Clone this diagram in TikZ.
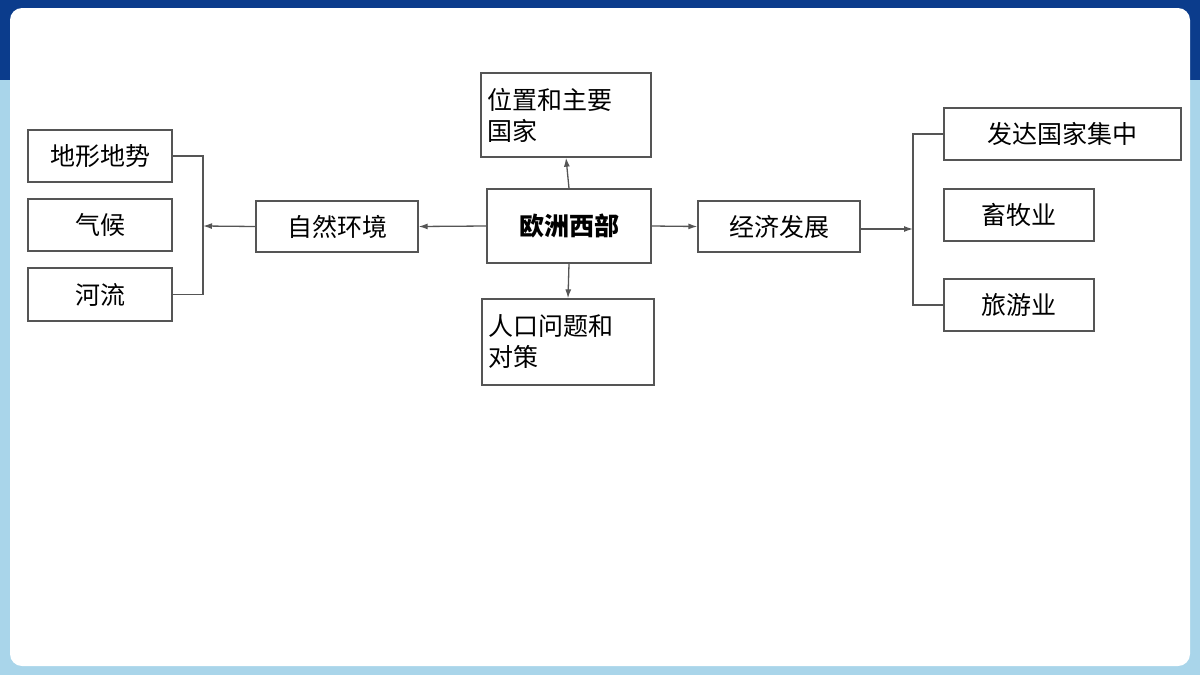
\documentclass[tikz,border=0pt]{standalone}
\usepackage{fontspec}
\newfontfamily\cjk{Noto Sans CJK SC}
\usetikzlibrary{positioning,arrows.meta}
\definecolor{navy}{HTML}{0B3C8C}
\definecolor{skyb}{HTML}{A9D5EA}
\definecolor{linec}{HTML}{555555}
\tikzset{
  box/.style={draw=linec,line width=1.3pt,fill=white,font=\cjk\fontsize{25}{31}\selectfont,inner sep=0pt},
  link/.style={draw=linec,line width=1.3pt},
  arr/.style={link,-{Latex[length=9pt,width=6pt]}}
}
\begin{document}
\begin{tikzpicture}[x=1pt,y=-1pt]
  \useasboundingbox (0,0) rectangle (1200,675);
  \fill[skyb] (0,0) rectangle (1200,675);
  \fill[navy] (0,0) rectangle (1200,80);
  \fill[white,rounded corners=12pt] (10,8) rectangle (1190,666);
  % centre
  \node[box,minimum width=164pt,minimum height=74pt,font=\cjk\bfseries\fontsize{25}{31}\selectfont] (xb) at (569,226) {欧洲西部};
  \node[box,minimum width=170pt,minimum height=84pt,text width=158pt,align=left] (wz) at (566,115) {位置和主要\\国家};
  \node[box,minimum width=172pt,minimum height=86pt,text width=160pt,align=left] (rk) at (568,342) {人口问题和\\对策};
  \node[box,minimum width=162pt,minimum height=51pt] (zr) at (337,226.5) {自然环境};
  \node[box,minimum width=162pt,minimum height=51pt] (jj) at (779,226.5) {经济发展};
  % left
  \node[box,minimum width=144pt,minimum height=52pt] (dx) at (100,156) {地形地势};
  \node[box,minimum width=144pt,minimum height=52pt] (qh) at (100,225) {气候};
  \node[box,minimum width=144pt,minimum height=53pt] (hl) at (100,294.5) {河流};
  % right
  \node[box,minimum width=237pt,minimum height=52pt] (fd) at (1062.5,134) {发达国家集中};
  \node[box,minimum width=150pt,minimum height=52pt] (xm) at (1019,215) {畜牧业};
  \node[box,minimum width=150pt,minimum height=52pt] (ly) at (1019,305) {旅游业};
  % connectors
  \coordinate (lb) at (203,226);
  \coordinate (rb) at (913,229);
  \draw[link] (dx.east) -| (lb) |- (hl.east);
  \draw[arr] (zr.west) -- (lb);
  \draw[arr] (xb.west) -- (zr.east);
  \draw[arr] (xb.east) -- (jj.west);
  \draw[arr] (xb.north) -- (wz.south);
  \draw[arr] (xb.south) -- (rk.north);
  \draw[arr] (jj.east |- rb) -- (rb);
  \draw[link] (fd.west) -| (rb) |- (ly.west);
\end{tikzpicture}
\end{document}
